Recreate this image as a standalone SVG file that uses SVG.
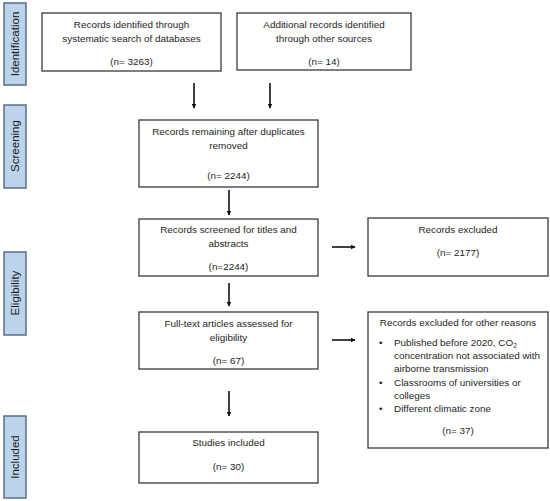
<svg xmlns="http://www.w3.org/2000/svg" width="550" height="501" viewBox="0 0 550 501">
<defs>
<marker id="ah" viewBox="0 0 10 10" refX="9" refY="5" markerWidth="5" markerHeight="5" orient="auto" markerUnits="userSpaceOnUse"><path d="M0,0 L10,5 L0,10 z" fill="#111"/></marker>
<style>
.box{fill:#fff;stroke:#3a3a3a;stroke-width:1.3}
.side{fill:#bcd3ec;stroke:#5a6f86;stroke-width:1.5}
text{font-family:"Liberation Sans",Arial,sans-serif;font-size:9.9px;fill:#1e1e1e}
.s{font-size:11.5px}
.c{text-anchor:middle}
.arr{stroke:#111;stroke-width:1.6;fill:none;marker-end:url(#ah)}
</style>
</defs>
<rect width="550" height="501" fill="#fff"/>
<g id="phase-identification"><rect class="side" x="4" y="3" width="22" height="82"/><text class="c s" transform="translate(19,44) rotate(-90)">Identification</text></g>
<g id="phase-screening"><rect class="side" x="4" y="105" width="22" height="83"/><text class="c s" transform="translate(19,146) rotate(-90)">Screening</text></g>
<g id="phase-eligibility"><rect class="side" x="4" y="252" width="22" height="83"/><text class="c s" transform="translate(19,293) rotate(-90)">Eligibility</text></g>
<g id="phase-included"><rect class="side" x="4" y="416" width="22" height="82"/><text class="c s" transform="translate(19,457) rotate(-90)">Included</text></g>

<g id="n-databases"><rect class="box" x="42" y="13" width="179" height="58"/>
<text class="c" x="131.5" y="28">Records identified through</text>
<text class="c" x="131.5" y="42">systematic search of databases</text>
<text class="c" x="131.5" y="65">(n= 3263)</text></g>

<g id="n-other"><rect class="box" x="237" y="13" width="174" height="57"/>
<text class="c" x="324" y="28">Additional records identified</text>
<text class="c" x="324" y="42">through other sources</text>
<text class="c" x="324" y="65">(n= 14)</text></g>

<g id="n-remaining"><rect class="box" x="139" y="120" width="179" height="67"/>
<text class="c" x="228.5" y="135">Records remaining after duplicates</text>
<text class="c" x="228.5" y="149">removed</text>
<text class="c" x="228.5" y="179">(n= 2244)</text></g>

<g id="n-screened"><rect class="box" x="139" y="219" width="179" height="57"/>
<text class="c" x="228.5" y="233">Records screened for titles and</text>
<text class="c" x="228.5" y="247">abstracts</text>
<text class="c" x="228.5" y="270">(n=2244)</text></g>

<g id="n-excluded"><rect class="box" x="368" y="218" width="180" height="58"/>
<text class="c" x="458" y="233">Records excluded</text>
<text class="c" x="458" y="256">(n= 2177)</text></g>

<g id="n-fulltext"><rect class="box" x="139" y="312" width="179" height="57"/>
<text class="c" x="228.5" y="327">Full-text articles assessed for</text>
<text class="c" x="228.5" y="341">eligibility</text>
<text class="c" x="228.5" y="364">(n= 67)</text></g>

<g id="n-excluded-other"><rect class="box" x="368" y="312" width="180" height="136"/>
<text class="c" x="458" y="326">Records excluded for other reasons</text>
<text x="379" y="346">•</text><text x="394" y="346">Published before 2020, CO<tspan font-size="6.5" dy="1.5">2</tspan></text>
<text x="394" y="359">concentration not associated with</text>
<text x="394" y="372">airborne transmission</text>
<text x="379" y="386">•</text><text x="394" y="386">Classrooms of universities or</text>
<text x="394" y="399">colleges</text>
<text x="379" y="412">•</text><text x="394" y="412">Different climatic zone</text>
<text class="c" x="458" y="434">(n= 37)</text></g>

<g id="n-included"><rect class="box" x="139" y="432" width="179" height="51"/>
<text class="c" x="228.5" y="446">Studies included</text>
<text class="c" x="228.5" y="470">(n= 30)</text></g>

<g id="connectors">
<line class="arr" x1="194" y1="83" x2="194" y2="108"/>
<line class="arr" x1="270" y1="83" x2="270" y2="108"/>
<line class="arr" x1="229" y1="190" x2="229" y2="215"/>
<line class="arr" x1="332" y1="247" x2="355" y2="247"/>
<line class="arr" x1="229" y1="283" x2="229" y2="306"/>
<line class="arr" x1="332" y1="340" x2="355" y2="340"/>
<line class="arr" x1="229" y1="391" x2="229" y2="416"/>
</g>
</svg>
